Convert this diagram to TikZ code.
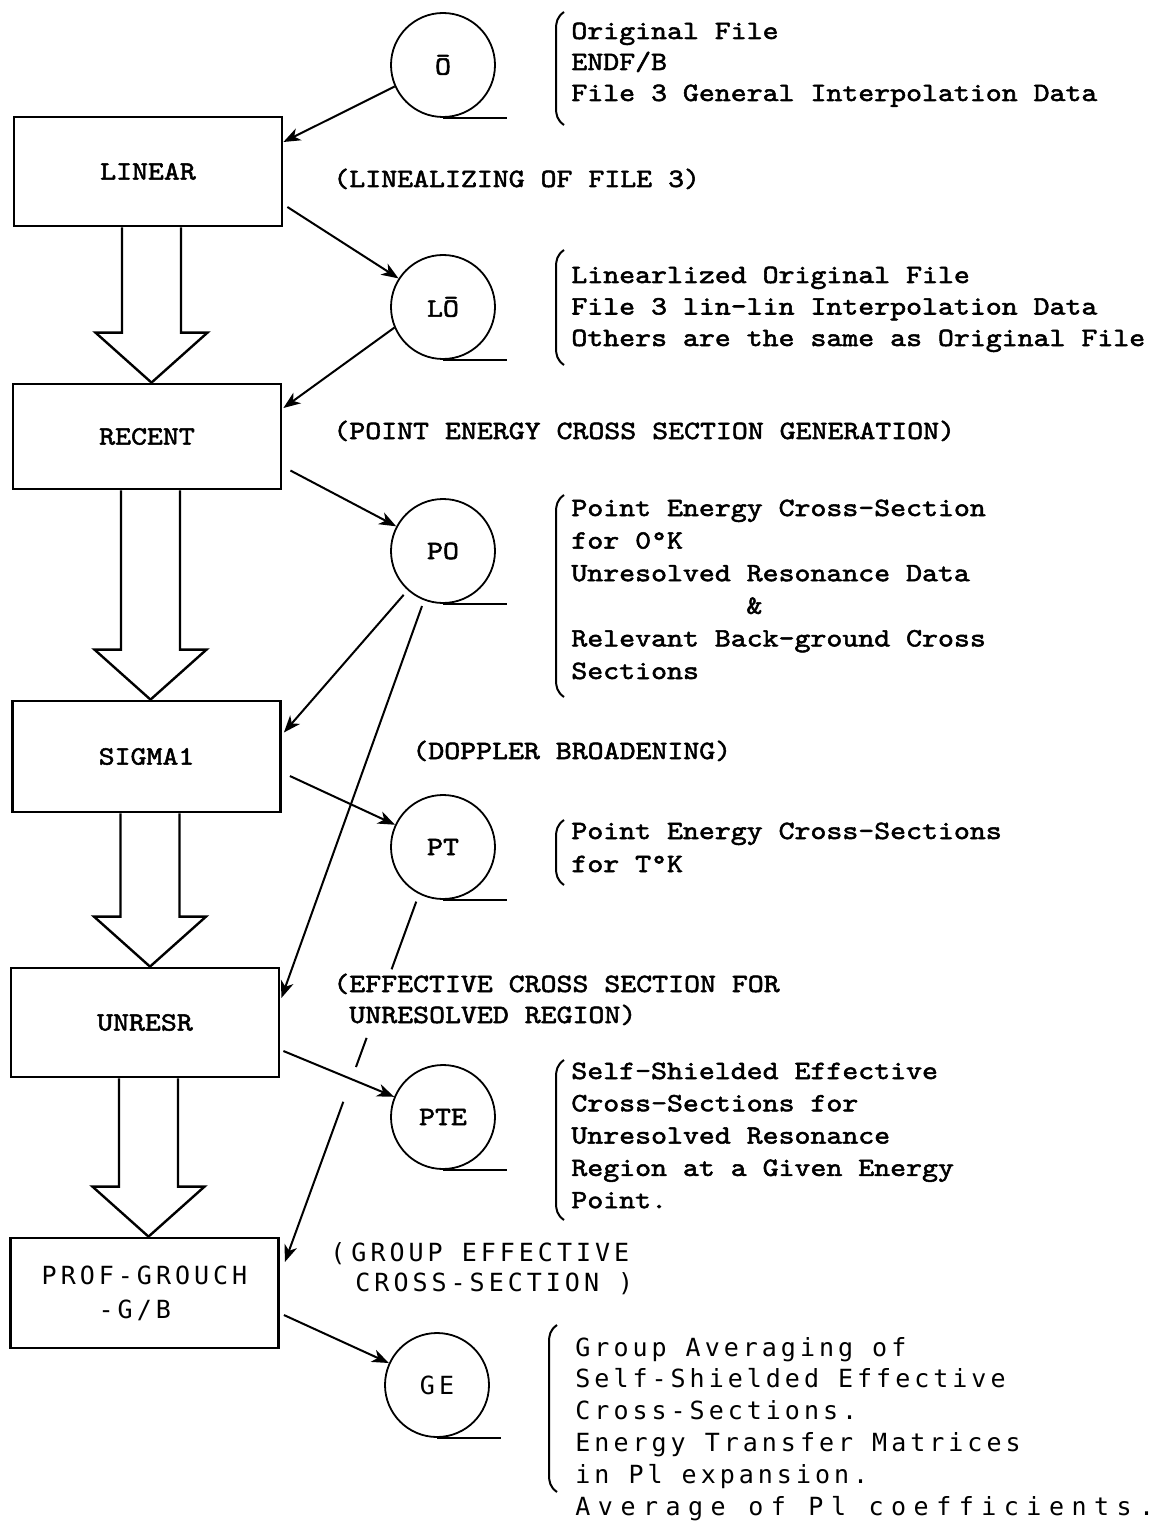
\documentclass[tikz,border=0pt]{standalone}
\usepackage{fontspec}
\usetikzlibrary{arrows.meta,calc}
\newfontfamily\twfam[Extension=.otf, FakeStretch=1.15, FakeBold=2]{lmmono10-regular}
\newfontfamily\ssfam[LetterSpace=16]{DejaVu Sans Mono}
\newcommand\twfont{\twfam\fontsize{13.2}{15}\selectfont}
\newcommand\ssfont{\ssfam\fontsize{12.5}{17}\selectfont}
\newcommand\holarrow[2]{%
  \draw[hollow] let \p1=(#1.south), \p2=(#2.north) in
    (\x1-13pt,\y1) -- (\x1-13pt,\y2+25pt) -- (\x1-26.25pt,\y2+25pt) --
    (\x1+1.75pt,\y2) -- (\x1+29.75pt,\y2+25pt) -- (\x1+16.5pt,\y2+25pt) --
    (\x1+16.5pt,\y1);}
\tikzset{
  box/.style={draw, line width=1.4pt, minimum width=134pt, inner sep=0pt, font=\twfont},
  tape/.style={draw, circle, line width=0.9pt, minimum size=52pt, inner sep=0pt, font=\twfont},
  conn/.style={line width=1pt, -{Stealth[length=8.5pt,width=6.5pt,inset=2.5pt]}},
  hollow/.style={line width=1.2pt, line join=miter},
  brc/.style={line width=1pt},
  tail/.style={line width=1pt},
  tx/.style={anchor=base west, inner sep=0pt, font=\twfont},
  sx/.style={anchor=base west, inner sep=0pt, font=\ssfont},
}
\begin{document}
\begin{tikzpicture}[x=0.5pt,y=-0.5pt]
\useasboundingbox (0,0) rectangle (1155,1524);
\fill[white] (0,0) rectangle (1155,1524);

% program boxes
\node[box, minimum height=54.5pt] (linear) at (148,171.5) {LINEAR};
\node[box, minimum height=52.5pt] (recent) at (147,436.5) {RECENT};
\node[box, minimum height=55.5pt] (sigma) at (146.5,756.5) {SIGMA1};
\node[box, minimum height=54.5pt] (unresr) at (145,1022.5) {UNRESR};
\node[box, minimum height=55pt, font=\ssfont, align=left] (prof) at (144.5,1293) {PROF-GROUCH\\\hspace*{28.5pt}-G/B};

% tapes
\node[tape] (O) at (443,65) {Ō};
\node[tape] (LO) at (443,307) {LŌ};
\node[tape] (PO) at (443,551) {PO};
\node[tape] (PT) at (443,847) {PT};
\node[tape] (PTE) at (443,1117) {PTE};
\node[tape, font=\ssfont] (GE) at (437,1385) {GE};
\foreach \c in {O,LO,PO,PT,PTE,GE} \draw[tail] (\c.south) -- ++(64,0);

% hollow flow arrows
\holarrow{linear}{recent}
\holarrow{recent}{sigma}
\holarrow{sigma}{unresr}
\holarrow{unresr}{prof}

% connectors
\draw[conn] (O.204) -- ($(linear.east)+(0,-29.5)$);
\draw[conn] ($(linear.east)+(4,35.5)$) -- (LO);
\draw[conn] (LO.203) -- ($(recent.east)+(1,-28.5)$);
\draw[conn] ($(recent.east)+(8,34)$) -- (PO);
\draw[conn, shorten <=3pt] (PO.228) -- ($(sigma.east)+(2,-24)$);
\draw[conn, shorten <=3pt] (PO.249) -- ($(unresr.east)+(1,-24.5)$);
\draw[conn] ($(sigma.east)+(8,19.5)$) -- (PT);
\draw[conn] ($(unresr.east)+(3,28.5)$) -- (PTE);
\draw[conn, shorten <=4pt, dash pattern=on 36pt off 36.5pt on 15.5pt off 18.5pt on 300pt] (PT.243) -- ($(prof.east)+(5,-31)$);
\draw[conn] ($(prof.east)+(4,22)$) -- (GE);

% braces
\foreach \x/\ya/\yb in {556/12/125, 556/250/365, 556/495/697, 556/820/885, 556/1060/1220, 549/1325/1492}
  \draw[brc] (\x+8,\ya) .. controls (\x+1,\ya+5) and (\x,\ya+10) .. (\x,\ya+18) -- (\x,\yb-18) .. controls (\x,\yb-10) and (\x+1,\yb-5) .. (\x+8,\yb);

% descriptions
\foreach \s [count=\i] in {Original File, ENDF/B, File 3 General Interpolation Data}
  \node[tx] (a\i) at (571,{39+31*(\i-1)}) {\s};
\foreach \s [count=\i] in {Linearlized Original File, File 3 lin-lin Interpolation Data, Others are the same as Original File}
  \node[tx] (b\i) at (571,{283+31.5*(\i-1)}) {\s};
\foreach \s [count=\i] in {Point Energy Cross-Section, for 0°K, Unresolved Resonance Data, \hspace*{87.5pt}\&, Relevant Back-ground Cross, Sections}
  \node[tx] (c\i) at (571,{516+32.6*(\i-1)}) {\s};
\foreach \s [count=\i] in {Point Energy Cross-Sections, for T°K}
  \node[tx] (d\i) at (571,{839+33*(\i-1)}) {\s};
\foreach \s [count=\i] in {Self-Shielded Effective, Cross-Sections for, Unresolved Resonance, Region at a Given Energy, Point.}
  \node[tx] (e\i) at (571,{1079+32.3*(\i-1)}) {\s};
\foreach \s [count=\i] in {Group Averaging of, Self-Shielded Effective, Cross-Sections., Energy Transfer Matrices, in Pl expansion.}
  \node[sx] (f\i) at (575,{1356+31.8*(\i-1)}) {\s};
\node[sx, font=\ssfont\addfontfeature{LetterSpace=30}] (f6) at (575,1515) {Average of Pl coefficients.};

% process notes
\node[tx] (n1) at (333,187) {(LINEALIZING OF FILE 3)};
\node[tx] (n2) at (333,439) {(POINT ENERGY CROSS SECTION GENERATION)};
\node[tx] (n3) at (412,759) {(DOPPLER BROADENING)};
\node[tx] (n4) at (333,992) {(EFFECTIVE CROSS SECTION FOR};
\node[tx] (n5) at (349,1023) {UNRESOLVED REGION)};
\node[sx] (n6) at (330,1261) {(\hspace*{3pt}GROUP EFFECTIVE};
\node[sx] (n7) at (355,1291) {CROSS-SECTION )};
\end{tikzpicture}
\end{document}
